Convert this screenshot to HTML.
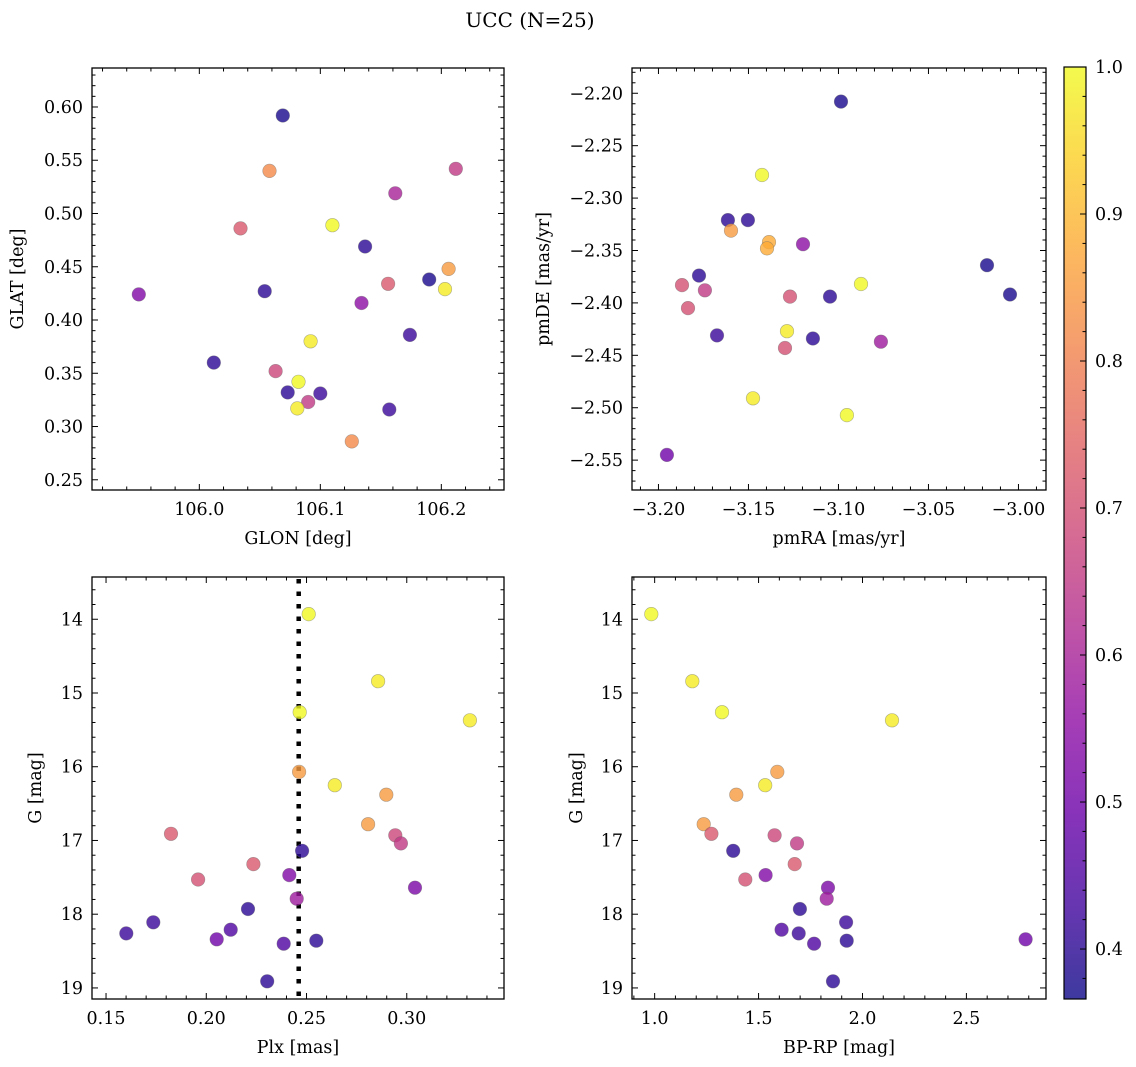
<!DOCTYPE html>
<html><head><meta charset="utf-8"><style>
html,body{margin:0;padding:0;background:#fff;}
svg{display:block;font-family:"DejaVu Serif","Liberation Serif",serif;}
</style></head><body>
<svg id="fig" width="1136" height="1067" viewBox="0 0 1136 1067" xmlns="http://www.w3.org/2000/svg">
<defs>
<linearGradient id="cbgrad" x1="0" y1="1" x2="0" y2="0">
<stop offset="0" stop-color="#0d0887"/><stop offset="0.1" stop-color="#41049d"/><stop offset="0.2" stop-color="#6a00a8"/><stop offset="0.3" stop-color="#8f0da4"/><stop offset="0.4" stop-color="#b12a90"/><stop offset="0.5" stop-color="#cc4778"/><stop offset="0.6" stop-color="#e16462"/><stop offset="0.7" stop-color="#f2844b"/><stop offset="0.8" stop-color="#fca636"/><stop offset="0.9" stop-color="#fcce25"/><stop offset="1" stop-color="#f0f921"/>
</linearGradient>
</defs>
<text x="530" y="27" font-size="20" text-anchor="middle">UCC (N=25)</text>
</svg>
<script>
// ---- data ----
const tlLon=[106.069,106.058,106.212,106.162,106.034,106.110,106.137,106.206,106.156,106.190,106.203,105.950,106.054,106.134,106.174,106.092,106.012,106.063,106.082,106.073,106.100,106.090,106.081,106.157,106.126];
const tlLat=[0.592,0.540,0.542,0.519,0.486,0.489,0.469,0.448,0.434,0.438,0.429,0.424,0.427,0.416,0.386,0.380,0.360,0.352,0.342,0.332,0.331,0.323,0.317,0.316,0.286];
const tlProb=[0.38,0.82,0.65,0.6,0.72,1.0,0.4,0.85,0.72,0.38,0.98,0.53,0.4,0.55,0.42,0.98,0.4,0.68,1.0,0.4,0.42,0.65,0.98,0.42,0.82];
const trPmra=[-3.0986,-3.1425,-3.1614,-3.1503,-3.1597,-3.1386,-3.1397,-3.1197,-3.1869,-3.1775,-3.1742,-3.0875,-3.0175,-3.0047,-3.1269,-3.1047,-3.1836,-3.1675,-3.1286,-3.1142,-3.1297,-3.0764,-3.1475,-3.0953,-3.1953];
const trPmde=[-2.208,-2.278,-2.321,-2.321,-2.331,-2.342,-2.348,-2.344,-2.383,-2.374,-2.388,-2.382,-2.364,-2.392,-2.394,-2.394,-2.405,-2.431,-2.427,-2.434,-2.443,-2.437,-2.491,-2.507,-2.545];
const trProb=[0.38,1.0,0.4,0.4,0.85,0.88,0.88,0.55,0.7,0.4,0.65,1.0,0.38,0.38,0.7,0.4,0.7,0.42,0.98,0.4,0.7,0.58,0.98,1.0,0.5];
const plx=[0.2511,0.2857,0.2466,0.3315,0.2463,0.2641,0.2898,0.2807,0.1824,0.2943,0.2971,0.2478,0.2235,0.2414,0.1959,0.3041,0.2451,0.2208,0.1736,0.2122,0.1601,0.2052,0.2549,0.2386,0.2304];
const gmag=[13.93,14.84,15.26,15.37,16.07,16.25,16.38,16.78,16.91,16.93,17.04,17.14,17.32,17.47,17.53,17.64,17.79,17.93,18.11,18.21,18.26,18.34,18.36,18.40,18.91];
const bprp=[0.984,1.181,1.324,2.142,1.590,1.532,1.393,1.236,1.273,1.577,1.685,1.378,1.674,1.534,1.436,1.834,1.828,1.699,1.921,1.611,1.693,2.785,1.924,1.767,1.858];
const cmdProb=[1.0,0.98,1.0,0.98,0.85,0.98,0.85,0.85,0.72,0.68,0.65,0.4,0.72,0.53,0.7,0.52,0.58,0.4,0.42,0.45,0.42,0.5,0.4,0.45,0.4];
const plxMedian=0.2461;
const cbTicks=[0.4,0.5,0.6,0.7,0.8,0.9,1.0];
const cbMin=0.366, cbMax=1.0;

const NS="http://www.w3.org/2000/svg";
const svg=document.getElementById('fig');
const FS=17.5;
function mk(tag,attrs,parent){const e=document.createElementNS(NS,tag);for(const k in attrs)e.setAttribute(k,attrs[k]);(parent||svg).appendChild(e);return e;}

const stops=[[13,8,135],[65,4,157],[106,0,168],[143,13,164],[177,42,144],[204,71,120],[225,100,98],[242,132,75],[252,166,54],[252,206,37],[240,249,33]];
function plasma(v){let t=(v-cbMin)/(cbMax-cbMin);t=Math.max(0,Math.min(1,t))*10;const i=Math.min(9,Math.floor(t)),f=t-i;const a=stops[i],b=stops[i+1];return 'rgb('+a.map((c,k)=>Math.round(c+(b[k]-c)*f)).join(',')+')';}

function fmt(v,d){const s=Math.abs(v).toFixed(d);return (v<0?'\u2212':'')+s;}

function panel(o){
  const g=mk('g',{});
  
  
  const X=v=>o.x0+(v-o.xmin)/(o.xmax-o.xmin)*(o.x1-o.x0);
  const Y=o.yinv?(v=>o.y0+(v-o.ymin)/(o.ymax-o.ymin)*(o.y1-o.y0)):(v=>o.y1-(v-o.ymin)/(o.ymax-o.ymin)*(o.y1-o.y0));
  if(o.vline!==undefined){const l=mk('line',{x1:X(o.vline),x2:X(o.vline),y1:o.y0+2,y2:o.y1,stroke:'#000','stroke-width':4.5,'stroke-dasharray':'4.5 8'},g);
    
    }
  for(let i=0;i<o.xs.length;i++){
    const c=mk('circle',{cx:X(o.xs[i]).toFixed(1),cy:Y(o.ys[i]).toFixed(1),r:6.8,fill:plasma(o.cs[i]),'fill-opacity':0.8,stroke:'#666','stroke-opacity':0.5,'stroke-width':0.6},g);
    
    
  }
  mk('rect',{x:o.x0,y:o.y0,width:o.x1-o.x0,height:o.y1-o.y0,fill:'none',stroke:'#000','stroke-width':1.3},g);
  const eps=1e-9;
  for(let k=Math.ceil((o.xmin)/o.xminor-eps);k*o.xminor<=o.xmax+eps;k++){
    const v=k*o.xminor;const major=Math.abs(v/o.xmajor-Math.round(v/o.xmajor))<1e-6;const L=major?6:3.5;const px=X(v);
    mk('line',{x1:px,x2:px,y1:o.y1,y2:o.y1-L,stroke:'#000','stroke-width':1},g);
    mk('line',{x1:px,x2:px,y1:o.y0,y2:o.y0+L,stroke:'#000','stroke-width':1},g);
    if(major){const t=mk('text',{x:px,y:o.y1+25,'font-size':FS,'text-anchor':'middle'},g);t.textContent=fmt(v,o.xd);
      
      }
  }
  for(let k=Math.ceil((o.ymin)/o.yminor-eps);k*o.yminor<=o.ymax+eps;k++){
    const v=k*o.yminor;const major=Math.abs(v/o.ymajor-Math.round(v/o.ymajor))<1e-6;const L=major?6:3.5;const py=Y(v);
    mk('line',{x1:o.x0,x2:o.x0+L,y1:py,y2:py,stroke:'#000','stroke-width':1},g);
    mk('line',{x1:o.x1,x2:o.x1-L,y1:py,y2:py,stroke:'#000','stroke-width':1},g);
    if(major){const t=mk('text',{x:o.x0-9,y:py+6,'font-size':FS,'text-anchor':'end'},g);t.textContent=fmt(v,o.yd);
      
      }
  }
  const xt=mk('text',{x:(o.x0+o.x1)/2,y:o.y1+54,'font-size':FS,'text-anchor':'middle'},g);xt.textContent=o.xlabel;
  
  
  const yt=mk('text',{x:0,y:0,'font-size':FS,'text-anchor':'middle',transform:'translate('+o.ylx+','+((o.y0+o.y1)/2)+') rotate(-90)'},g);yt.textContent=o.ylabel;
  
  
}

panel({name:'glon-glat-panel',x0:92,x1:504,y0:68,y1:490,xmin:105.9113,xmax:106.2518,ymin:0.2404,ymax:0.6366,xmajor:0.1,xminor:0.02,ymajor:0.05,yminor:0.01,xd:1,yd:2,xs:tlLon,ys:tlLat,cs:tlProb,xlabel:'GLON [deg]',ylabel:'GLAT [deg]',ylx:23});
panel({name:'pm-panel',x0:632,x1:1046,y0:68,y1:490,xmin:-3.2147,xmax:-2.9847,ymin:-2.5785,ymax:-2.1759,xmajor:0.05,xminor:0.01,ymajor:0.05,yminor:0.01,xd:2,yd:2,xs:trPmra,ys:trPmde,cs:trProb,xlabel:'pmRA [mas/yr]',ylabel:'pmDE [mas/yr]',ylx:549});
panel({name:'plx-g-panel',x0:92,x1:504,y0:577,y1:999,xmin:0.1430,xmax:0.3485,ymin:13.427,ymax:19.15,yinv:true,xmajor:0.05,xminor:0.01,ymajor:1,yminor:0.2,xd:2,yd:0,xs:plx,ys:gmag,cs:cmdProb,vline:plxMedian,xlabel:'Plx [mas]',ylabel:'G [mag]',ylx:41});
panel({name:'cmd-panel',x0:632,x1:1046,y0:577,y1:999,xmin:0.891,xmax:2.883,ymin:13.427,ymax:19.15,yinv:true,xmajor:0.5,xminor:0.1,ymajor:1,yminor:0.2,xd:1,yd:0,xs:bprp,ys:gmag,cs:cmdProb,xlabel:'BP-RP [mag]',ylabel:'G [mag]',ylx:582});

const cb=mk('g',{});


const cy0=67,cy1=999,cx0=1064,cx1=1086;
const CY=v=>cy1-(v-cbMin)/(cbMax-cbMin)*(cy1-cy0);
mk('rect',{x:cx0,y:cy0,width:cx1-cx0,height:cy1-cy0,fill:'url(#cbgrad)','fill-opacity':0.8},cb);
mk('rect',{x:cx0,y:cy0,width:cx1-cx0,height:cy1-cy0,fill:'none',stroke:'#000','stroke-width':1.2},cb);
for(let k=Math.ceil(cbMin*50);k<=50;k++){const v=k/50;const py=CY(v);const major=k%5===0;
  mk('line',{x1:cx1,x2:cx1-(major?6:3.5),y1:py,y2:py,stroke:'#000','stroke-width':1},cb);}
cbTicks.forEach(v=>{const t=mk('text',{x:cx1+9,y:CY(v)+6,'font-size':FS},cb);t.textContent=v.toFixed(1);
  
  });
</script>
</body></html>
